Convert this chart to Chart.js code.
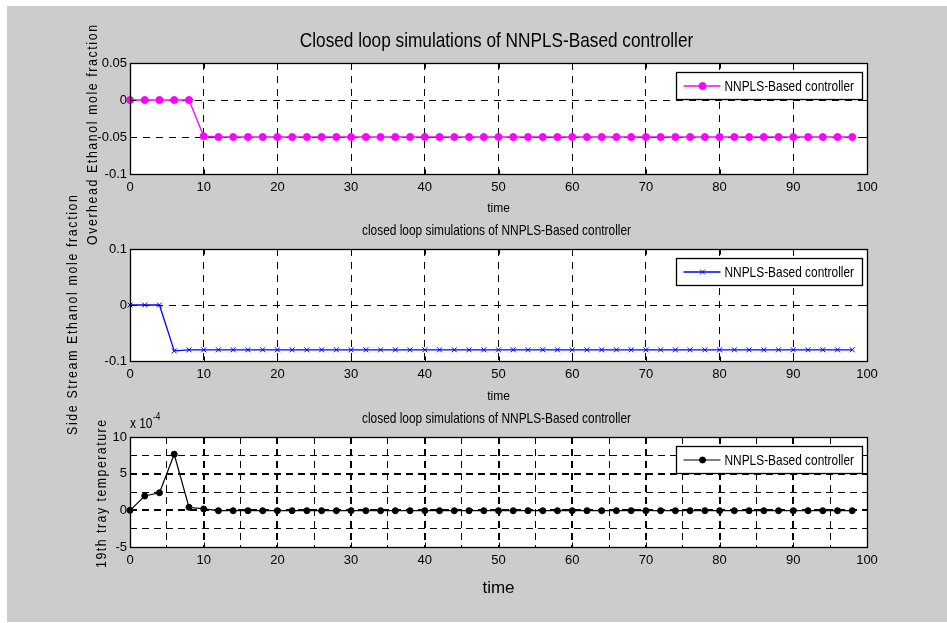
<!DOCTYPE html>
<html>
<head>
<meta charset="utf-8">
<script src="https://cdn.jsdelivr.net/npm/chart.js@4/dist/chart.umd.min.js"></script>
<style>
html, body { margin: 0; padding: 0; background: #ffffff; }
#page { position: relative; width: 947px; height: 623px; overflow: hidden; background: #ffffff; }
#bg { position: absolute; left: 7px; top: 6px; width: 940px; height: 616px; background: #cccccc; }
canvas { position: absolute; left: 0; top: 0; }
</style>
</head>
<body>
<div id="page">
  <div id="bg"></div>
  <canvas id="c1" width="947" height="623"></canvas>
  <canvas id="c2" width="947" height="623"></canvas>
  <canvas id="c3" width="947" height="623"></canvas>
</div>
<script>
// ---------------- data ----------------
const time = [0, 2, 4, 6, 8, 10, 12, 14, 16, 18,
              20, 22, 24, 26, 28, 30, 32, 34, 36, 38,
              40, 42, 44, 46, 48, 50, 52, 54, 56, 58,
              60, 62, 64, 66, 68, 70, 72, 74, 76, 78,
              80, 82, 84, 86, 88, 90, 92, 94, 96, 98];

const overheadFraction = [0, 0, 0, 0, 0, -0.049, -0.05, -0.05, -0.05, -0.05,
                          -0.05, -0.05, -0.05, -0.05, -0.05, -0.05, -0.05, -0.05, -0.05, -0.05,
                          -0.05, -0.05, -0.05, -0.05, -0.05, -0.05, -0.05, -0.05, -0.05, -0.05,
                          -0.05, -0.05, -0.05, -0.05, -0.05, -0.05, -0.05, -0.05, -0.05, -0.05,
                          -0.05, -0.05, -0.05, -0.05, -0.05, -0.05, -0.05, -0.05, -0.05, -0.05];

const sideStreamFraction = [0, 0, 0, -0.082, -0.08, -0.08, -0.08, -0.08, -0.08, -0.08,
                            -0.08, -0.08, -0.08, -0.08, -0.08, -0.08, -0.08, -0.08, -0.08, -0.08,
                            -0.08, -0.08, -0.08, -0.08, -0.08, -0.08, -0.08, -0.08, -0.08, -0.08,
                            -0.08, -0.08, -0.08, -0.08, -0.08, -0.08, -0.08, -0.08, -0.08, -0.08,
                            -0.08, -0.08, -0.08, -0.08, -0.08, -0.08, -0.08, -0.08, -0.08, -0.08];

// 19th tray temperature, in units of 10^-4
const trayExponent = -4;
const tray19Temperature = [0, 1.95, 2.4, 7.65, 0.42, 0.19, -0.05, -0.05, -0.05, -0.05,
                           -0.05, -0.05, -0.05, -0.05, -0.05, -0.05, -0.05, -0.05, -0.05, -0.05,
                           -0.05, -0.05, -0.05, -0.05, -0.05, -0.05, -0.05, -0.05, -0.05, -0.05,
                           -0.05, -0.05, -0.05, -0.05, -0.05, -0.05, -0.05, -0.05, -0.05, -0.05,
                           -0.05, -0.05, -0.05, -0.05, -0.05, -0.05, -0.05, -0.05, -0.05, -0.05];

const timeTicks = [0, 10, 20, 30, 40, 50, 60, 70, 80, 90, 100];
const overheadTicks = [-0.1, -0.05, 0, 0.05];
const sideStreamTicks = [-0.1, 0, 0.1];
const trayTicks = [-5, 0, 5, 10];

const seriesLabel = 'NNPLS-Based controller';
const plotTitles = ['Closed loop simulations of NNPLS-Based controller',
                    'closed loop simulations of NNPLS-Based controller',
                    'closed loop simulations of NNPLS-Based controller'];
const yAxisLabels = ['Overhead Ethanol mole fraction',
                     'Side Stream Ethanol mole fraction',
                     '19th tray temperature'];
const xAxisLabel = 'time';

// ---------------- rendering ----------------
const FONT = "'Liberation Sans', Arial, Helvetica, sans-serif";
const NARROW = 0.82; // horizontal squeeze to imitate a narrow Helvetica
Chart.defaults.font.family = FONT;
Chart.defaults.color = '#000';

const Y_W = 50;
const AREA_LEFT = 130, AREA_RIGHT = 867, H = 623, W = 947;

function drawMarker(ctx, ds, x, y) {
  ctx.save();
  ctx.strokeStyle = ds.pointBorderColor;
  ctx.fillStyle = ds.pointBackgroundColor;
  ctx.lineWidth = ds.pointBorderWidth;
  const r = ds.pointRadius;
  if (ds.pointStyle === 'crossRot') {
    const d = r * Math.SQRT1_2;
    ctx.beginPath();
    ctx.moveTo(x - d, y - d); ctx.lineTo(x + d, y + d);
    ctx.moveTo(x - d, y + d); ctx.lineTo(x + d, y - d);
    ctx.stroke();
  } else {
    ctx.beginPath(); ctx.arc(x, y, r, 0, Math.PI * 2); ctx.fill(); ctx.stroke();
  }
  ctx.restore();
}

function narrowText(ctx, text, x, y, size, align) {
  ctx.save();
  ctx.font = size + 'px ' + FONT;
  ctx.textAlign = align;
  ctx.translate(x, y);
  ctx.scale(NARROW, 1);
  ctx.fillText(text, 0, 0);
  ctx.restore();
}

function decor(cfg) {
  return {
    id: 'decor' + cfg.id,
    beforeDraw(chart) {
      const {ctx, chartArea: a} = chart;
      ctx.save();
      ctx.fillStyle = '#ffffff';
      ctx.fillRect(a.left, a.top, a.right - a.left, a.bottom - a.top);
      ctx.restore();
    },
    afterDatasetsDraw(chart) {
      const {ctx, chartArea: a} = chart;
      const L = Math.round(a.left) + 0.5, R = Math.round(a.right) + 0.5;
      const T = Math.round(a.top) + 0.5, B = Math.round(a.bottom) + 0.5;
      ctx.save();
      ctx.strokeStyle = '#000';
      ctx.lineWidth = 1;
      ctx.setLineDash([]);
      // inner tick marks
      const xs = chart.scales.x, ys = chart.scales.y;
      ctx.beginPath();
      xs.ticks.forEach(t => {
        if (!cfg.xLabelled(t.value)) return;
        const p = Math.round(xs.getPixelForValue(t.value)) + 0.5;
        ctx.moveTo(p, B); ctx.lineTo(p, B - 5);
        ctx.moveTo(p, T); ctx.lineTo(p, T + 5);
      });
      ys.ticks.forEach(t => {
        if (!cfg.yLabelled(t.value)) return;
        const p = Math.round(ys.getPixelForValue(t.value)) + 0.5;
        ctx.moveTo(L, p); ctx.lineTo(L + 5, p);
        ctx.moveTo(R, p); ctx.lineTo(R - 5, p);
      });
      ctx.stroke();
      // frame
      ctx.lineWidth = 1.3;
      ctx.strokeRect(L, T, R - L, B - T);
      // legend
      const ds = chart.data.datasets[0];
      const bw = 186, bh = 27;
      const bx = Math.round(a.right) - 5 - bw + 0.5, by = Math.round(a.top) + 9 + 0.5;
      ctx.fillStyle = '#ffffff';
      ctx.fillRect(bx, by, bw, bh);
      ctx.lineWidth = 1.3;
      ctx.strokeStyle = '#000';
      ctx.strokeRect(bx, by, bw, bh);
      const cy = by + bh / 2;
      ctx.strokeStyle = ds.borderColor;
      ctx.lineWidth = ds.borderWidth;
      ctx.beginPath(); ctx.moveTo(bx + 7, cy); ctx.lineTo(bx + 44, cy); ctx.stroke();
      drawMarker(ctx, ds, bx + 26, cy);
      ctx.fillStyle = '#000';
      ctx.textBaseline = 'middle';
      narrowText(ctx, ds.label, bx + 48, cy + 1, 14.5, 'left');
      ctx.restore();
    },
    afterDraw(chart) {
      const {ctx, chartArea: a} = chart;
      ctx.save();
      ctx.fillStyle = '#000';
      ctx.textBaseline = 'middle';
      // title
      narrowText(ctx, cfg.title, (a.left + a.right) / 2 - 2, cfg.titleY, cfg.titleSize, 'center');
      // rotated y label, letter-spaced
      ctx.font = '15px ' + FONT;
      ctx.letterSpacing = '0px';
      const w0 = ctx.measureText(cfg.yLabel).width;
      const sp = (cfg.yLabelLen / NARROW - w0) / (cfg.yLabel.length - 1);
      ctx.letterSpacing = sp.toFixed(2) + 'px';
      ctx.translate(cfg.yLabelX, cfg.yLabelY);
      ctx.rotate(-Math.PI / 2);
      ctx.scale(NARROW, 1);
      ctx.textAlign = 'center';
      ctx.fillText(cfg.yLabel, sp / 2, 0);
      ctx.restore();
      if (cfg.exponent !== undefined) {
        ctx.save();
        ctx.fillStyle = '#000';
        ctx.textBaseline = 'alphabetic';
        narrowText(ctx, 'x 10', 130, 428, 14.5, 'left');
        ctx.font = '14.5px ' + FONT;
        const w = ctx.measureText('x 10').width * NARROW;
        narrowText(ctx, String(cfg.exponent), 130 + w + 0.5, 420, 10, 'left');
        ctx.restore();
      }
    }
  };
}

function makeChart(cfg) {
  const edgeX = v => Math.abs(v) < 1e-9 || Math.abs(v - 100) < 1e-9;
  const edgeY = v => Math.abs(v - cfg.yMin) < 1e-9 || Math.abs(v - cfg.yMax) < 1e-9;
  return new Chart(document.getElementById(cfg.canvas), {
    type: 'line',
    data: {
      datasets: [{
        label: seriesLabel,
        data: time.map((t, i) => ({x: t, y: cfg.values[i]})),
        borderColor: cfg.color,
        backgroundColor: cfg.color,
        borderWidth: cfg.lineWidth,
        pointStyle: cfg.pointStyle,
        pointRadius: cfg.pointRadius,
        pointBorderColor: cfg.color,
        pointBackgroundColor: cfg.color,
        pointBorderWidth: 1,
        tension: 0,
        fill: false,
        clip: false
      }]
    },
    options: {
      responsive: false,
      animation: false,
      devicePixelRatio: 1,
      events: [],
      layout: {
        padding: {left: AREA_LEFT - Y_W, right: W - AREA_RIGHT, top: cfg.top, bottom: H - cfg.bottom - cfg.xH}
      },
      plugins: {legend: {display: false}, tooltip: {enabled: false}, title: {display: false}},
      scales: {
        x: {
          type: 'linear', min: 0, max: 100,
          ticks: {
            stepSize: cfg.xStep, autoSkip: false, maxRotation: 0, padding: 6, color: '#000',
            font: {family: FONT, size: 13},
            callback: v => (cfg.xLabelled(v) ? String(v) : '')
          },
          grid: {
            color: c => (c.tick && edgeX(c.tick.value) ? 'rgba(0,0,0,0)' : '#000'),
            lineWidth: c => cfg.xGridWidth(c.tick ? c.tick.value : 0),
            drawTicks: false
          },
          border: {display: false, dash: cfg.dash},
          title: {display: true, text: xAxisLabel, color: '#000', padding: 0, font: {family: FONT, size: cfg.timeSize}},
          afterFit(s) { s.height = cfg.xH; }
        },
        y: {
          type: 'linear', min: cfg.yMin, max: cfg.yMax,
          ticks: {
            stepSize: cfg.yStep, autoSkip: false, padding: 3, color: '#000',
            font: {family: FONT, size: 13},
            callback: v => (cfg.yLabelled(v) ? String(Math.round(v * 1000) / 1000) : '')
          },
          grid: {
            color: c => (c.tick && edgeY(c.tick.value) ? 'rgba(0,0,0,0)' : '#000'),
            lineWidth: c => cfg.yGridWidth(c.tick ? c.tick.value : 0),
            drawTicks: false
          },
          border: {display: false, dash: cfg.dash},
          afterFit(s) { s.width = Y_W; }
        }
      }
    },
    plugins: [decor(cfg)]
  });
}

const near = (v, arr) => arr.some(a => Math.abs(a - v) < 1e-9);
const isTimeTick = v => near(v, timeTicks);

makeChart({
  id: 1, canvas: 'c1', values: overheadFraction, color: '#ff00ff', lineWidth: 1.3,
  pointStyle: 'circle', pointRadius: 3.5,
  top: 63, bottom: 174, xH: 42,
  yMin: -0.1, yMax: 0.05, yStep: 0.05, xStep: 10,
  xLabelled: isTimeTick, yLabelled: v => near(v, overheadTicks),
  xGridWidth: () => 1, yGridWidth: () => 1,
  dash: [7, 6],
  title: plotTitles[0], titleSize: 21, titleY: 41,
  yLabel: yAxisLabels[0], yLabelX: 93, yLabelY: 135, yLabelLen: 220,
  timeSize: 12
});

makeChart({
  id: 2, canvas: 'c2', values: sideStreamFraction, color: '#0000ff', lineWidth: 1.3,
  pointStyle: 'crossRot', pointRadius: 3.5,
  top: 249, bottom: 361, xH: 43,
  yMin: -0.1, yMax: 0.1, yStep: 0.1, xStep: 10,
  xLabelled: isTimeTick, yLabelled: v => near(v, sideStreamTicks),
  xGridWidth: () => 1, yGridWidth: () => 1,
  dash: [7, 6],
  title: plotTitles[1], titleSize: 14.5, titleY: 231,
  yLabel: yAxisLabels[1], yLabelX: 73, yLabelY: 315, yLabelLen: 240,
  timeSize: 12
});

makeChart({
  id: 3, canvas: 'c3', values: tray19Temperature, color: '#000000', lineWidth: 1.2,
  pointStyle: 'circle', pointRadius: 3,
  top: 437, bottom: 547, xH: 52,
  yMin: -5, yMax: 10, yStep: 2.5, xStep: 5,
  xLabelled: isTimeTick, yLabelled: v => near(v, trayTicks),
  xGridWidth: v => (isTimeTick(v) ? 2 : 1), yGridWidth: v => (near(v, trayTicks) ? 2 : 1),
  dash: [7, 5],
  title: plotTitles[2], titleSize: 14.5, titleY: 419,
  yLabel: yAxisLabels[2], yLabelX: 102, yLabelY: 494, yLabelLen: 148,
  timeSize: 17, exponent: trayExponent
});
</script>
</body>
</html>
